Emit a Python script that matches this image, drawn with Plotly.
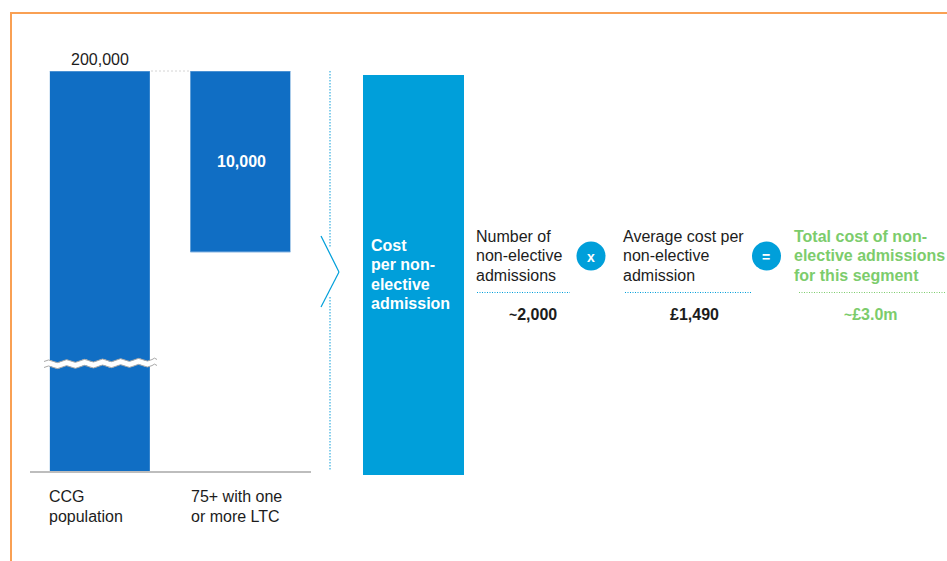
import plotly.graph_objects as go

# Chart data
categories = ["CCG population", "75+ with one or more LTC"]
category_lines = [["CCG", "population"], ["75+ with one", "or more LTC"]]
population = 200000
segment = 10000
bar_bases = [0, population - segment]
bar_values = [population, segment]
bar_value_labels = ["200,000", "10,000"]

block_title = ["Cost", "per non-", "elective", "admission"]
factor_one = ["Number of", "non-elective", "admissions"]
factor_two = ["Average cost per", "non-elective", "admission"]
result_title = ["Total cost of non-", "elective admissions", "for this segment"]
factor_one_value = "2,000"
factor_two_value = "£1,490"
result_value = "£3.0m"

# Page and style constants
W, H = 947, 561
FONT = "Liberation Sans, Arial, sans-serif"
DARK = "#1c1c1c"
BAR = "#106EC4"
EDGE = "#86B4E2"
CYAN = "#009FDA"
GREEN = "#7CCC6C"
ORANGE = "#F9A053"
BAR_WIDTH = 100 / 140.5


def px(x):
    return x / W


def py(y):
    return 1 - y / H


def line(x0, y0, x1, y1, color, width=1, dash="solid"):
    return dict(type="line", xref="paper", yref="paper",
                x0=px(x0), y0=py(y0), x1=px(x1), y1=py(y1),
                line=dict(color=color, width=width, dash=dash))


def bar_edge(index, value):
    # Thin highlight along one end of a bar, placed in axis units
    return dict(type="line", xref="x", yref="y2",
                x0=index - BAR_WIDTH / 2, x1=index + BAR_WIDTH / 2, y0=value, y1=value,
                line=dict(color=EDGE, width=1.2))


def wave_nodes(x0, x1, y, rise, amp=1.4, period=18.0):
    # Control and end points of a smooth wavy stroke
    nodes = []
    x, sign = x0, -1
    half = period / 2
    while x < x1:
        nx = min(x + half, x1)
        base = y - rise * (nx - x0) / (x1 - x0)
        nodes.append(((x + nx) / 2, base + sign * amp * 2, nx, base))
        x, sign = nx, -sign
    return nodes


def wave(x0, x1, y, rise):
    pts = f"M{px(x0)},{py(y)}"
    for cx, cy, ex, ey in wave_nodes(x0, x1, y, rise):
        pts += f" Q{px(cx)},{py(cy)} {px(ex)},{py(ey)}"
    return pts


def wave_band(x0, x1, y_top, y_bottom, rise):
    # Closed white band between the two wavy strokes
    top = wave(x0, x1, y_top, rise)
    bottom = wave_nodes(x0, x1, y_bottom, rise)
    path = top + f" L{px(x1)},{py(y_bottom - rise)}"
    prev = [(x0, y_bottom)] + [(n[2], n[3]) for n in bottom]
    for i in range(len(bottom) - 1, -1, -1):
        cx, cy, _, _ = bottom[i]
        ex, ey = prev[i]
        path += f" Q{px(cx)},{py(cy)} {px(ex)},{py(ey)}"
    return path + " Z"


def text(x, y, s, size=16, color=DARK, bold=False, anchor="left"):
    return dict(xref="paper", yref="paper", x=px(x), y=py(y), text=f"<b>{s}</b>" if bold else s,
                showarrow=False, xanchor=anchor, yanchor="middle", borderpad=0,
                font=dict(family=FONT, size=size, color=color))


def block(x, y0, lines, step, **kw):
    return [text(x, y0 + i * step, s, **kw) for i, s in enumerate(lines)]


fig = go.Figure()

# The population bar appears on both sides of the axis break
for yaxis in ("y", "y2"):
    fig.add_trace(go.Bar(
        x=[0, 1] if yaxis == "y2" else [0],
        y=bar_values if yaxis == "y2" else bar_values[:1],
        base=bar_bases if yaxis == "y2" else bar_bases[:1],
        yaxis=yaxis, xaxis="x",
        width=BAR_WIDTH,
        marker=dict(color=BAR, line=dict(width=0)),
        hoverinfo="skip",
    ))

shapes = [
    # Page frame
    line(11, 13, W, 13, ORANGE, 2),
    line(11, 12, 11, H, ORANGE, 2),
    # Bar end highlights
    bar_edge(0, population),
    bar_edge(1, population),
    bar_edge(1, population - segment),
    # Connector and section divider
    line(151, 71, 191, 71, "#D4D4D4", 1, "2px,2px"),
    line(330, 71, 330, 248, "#5FBFE6", 1.5, "1.5px,1.5px"),
    line(330, 297, 330, 471, "#5FBFE6", 1.5, "1.5px,1.5px"),
    # Chevron
    line(321, 236, 339, 272, CYAN, 1.2),
    line(339, 272, 321, 307, CYAN, 1.2),
    # Cost block
    dict(type="rect", xref="paper", yref="paper", x0=px(363), x1=px(464), y0=py(75), y1=py(475),
         fillcolor=CYAN, line=dict(width=0)),
    # Operators
    dict(type="circle", xref="paper", yref="paper", x0=px(576.5), x1=px(605.5), y0=py(241.5), y1=py(270.5),
         fillcolor=CYAN, line=dict(width=0)),
    dict(type="circle", xref="paper", yref="paper", x0=px(752), x1=px(781), y0=py(241.5), y1=py(270.5),
         fillcolor=CYAN, line=dict(width=0)),
    # Rules under the headings
    line(477, 292.5, 570, 292.5, CYAN, 1, "1px,1.5px"),
    line(625, 292.5, 752, 292.5, CYAN, 1, "1px,1.5px"),
    line(799, 292.5, 946, 292.5, GREEN, 1, "1px,1.5px"),
    # Axis break
    dict(type="path", xref="paper", yref="paper", path=wave_band(44, 157, 361.5, 367.5, 2),
         fillcolor="white", line=dict(width=0)),
    dict(type="path", xref="paper", yref="paper", path=wave(44, 157, 361.5, 2),
         line=dict(color="#a8a8a8", width=1)),
    dict(type="path", xref="paper", yref="paper", path=wave(44, 157, 367.5, 2),
         line=dict(color="#a8a8a8", width=1)),
]

tilde = "<span style='font-size:14px'>~</span>"
annotations = [
    text(100, 60, bar_value_labels[0], anchor="center"),
    text(241.5, 161.5, bar_value_labels[1], color="white", bold=True, anchor="center"),
    *block(48.2, 496.6, category_lines[0], 20),
    *block(189.8, 496.6, category_lines[1], 20),
    *block(369.8, 245.5, block_title, 19.3, color="white", bold=True),
    *block(474.8, 236.5, factor_one, 19.5),
    *block(622.2, 236.5, factor_two, 19.5),
    *block(793.2, 236.5, result_title, 19.5, color=GREEN, bold=True),
    text(591, 256.5, "x", size=14, color="white", bold=True, anchor="center"),
    text(766, 256.5, "=", size=14, color="white", bold=True, anchor="center"),
    text(533, 314, tilde + factor_one_value, color=DARK, bold=True, anchor="center"),
    text(694, 314, factor_two_value, color=DARK, bold=True, anchor="center"),
    text(870.5, 314, tilde + result_value, color=GREEN, bold=True, anchor="center"),
]

fig.update_layout(
    width=W, height=H, autosize=False,
    margin=dict(l=0, r=0, t=0, b=0),
    paper_bgcolor="white", plot_bgcolor="rgba(0,0,0,0)",
    showlegend=False, barmode="overlay",
    shapes=shapes, annotations=annotations,
    # Category positions; the baseline is this axis' own line
    xaxis=dict(domain=[px(29.6), px(310.6)], range=[-0.5, 1.5], anchor="y",
               showline=True, linecolor="#BDBDBD", linewidth=2,
               showgrid=False, zeroline=False, ticks="", showticklabels=False, fixedrange=True),
    # Lower part of the broken value axis
    yaxis=dict(domain=[py(471), py(364)], range=[0, 5912],
               showgrid=False, zeroline=False, showline=False, showticklabels=False, fixedrange=True),
    # Upper part of the broken value axis
    yaxis2=dict(domain=[py(364), py(71)], range=[population - 16188, population], anchor="x",
                showgrid=False, zeroline=False, showline=False, showticklabels=False, fixedrange=True),
)

fig.write_html("out.html", config=dict(displayModeBar=False))
